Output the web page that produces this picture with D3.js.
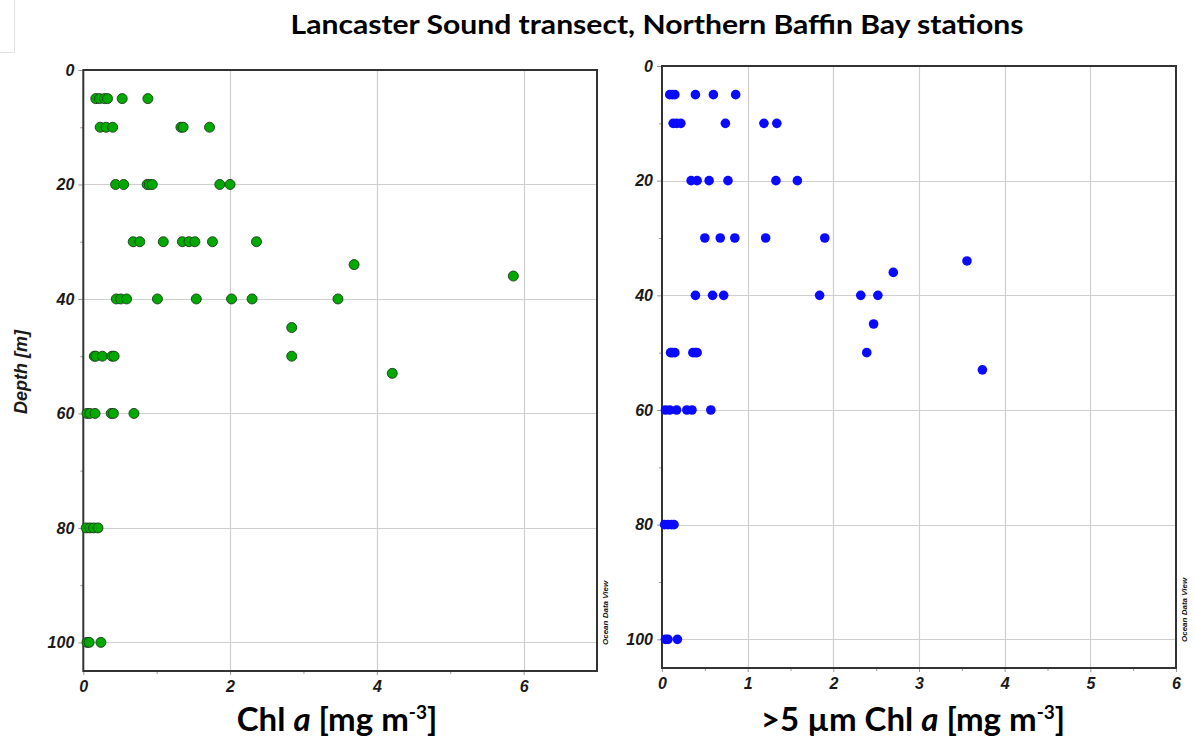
<!DOCTYPE html>
<html>
<head>
<meta charset="utf-8">
<script src="https://cdn.jsdelivr.net/npm/d3@7"></script>
<style>
  html, body { margin: 0; padding: 0; background: #fff; }
  svg { display: block; }
</style>
</head>
<body>
<svg id="chart" width="1195" height="741"></svg>
<script>
// Total Chl a profile (depth in m, concentration in mg m-3)
const chlDepth = [
  5, 5, 5, 5, 5, 5,
  10, 10, 10, 10, 10, 10,
  20, 20, 20, 20, 20, 20, 20,
  30, 30, 30, 30, 30, 30, 30, 30,
  34, 36,
  40, 40, 40, 40, 40, 40, 40, 40,
  45,
  50, 50, 50, 50, 50, 50,
  53,
  60, 60, 60, 60, 60, 60,
  80, 80, 80, 80,
  100, 100, 100
];
const chlValue = [
  0.17, 0.22, 0.29, 0.33, 0.53, 0.88,
  0.23, 0.31, 0.40, 1.33, 1.36, 1.72,
  0.44, 0.55, 0.87, 0.90, 0.94, 1.86, 2.00,
  0.68, 0.77, 1.09, 1.35, 1.44, 1.52, 1.76, 2.36,
  3.69, 5.86,
  0.45, 0.51, 0.59, 1.01, 1.54, 2.02, 2.30, 3.47,
  2.84,
  0.15, 0.17, 0.26, 0.39, 0.42, 2.84,
  4.21,
  0.05, 0.09, 0.16, 0.38, 0.41, 0.69,
  0.04, 0.09, 0.14, 0.20,
  0.05, 0.08, 0.24
];

// Size-fractionated (>5 µm) Chl a profile
const bigDepth = [
  5, 5, 5, 5, 5, 5,
  10, 10, 10, 10, 10, 10,
  20, 20, 20, 20, 20, 20,
  30, 30, 30, 30, 30,
  34, 36,
  40, 40, 40, 40, 40, 40,
  45,
  50, 50, 50, 50, 50, 50, 50,
  53,
  60, 60, 60, 60, 60, 60,
  80, 80, 80, 80,
  100, 100, 100
];
const bigValue = [
  0.09, 0.12, 0.15, 0.39, 0.60, 0.86,
  0.13, 0.17, 0.22, 0.74, 1.19, 1.34,
  0.34, 0.41, 0.55, 0.77, 1.33, 1.58,
  0.50, 0.68, 0.85, 1.21, 1.90,
  3.56, 2.70,
  0.39, 0.59, 0.72, 1.84, 2.32, 2.52,
  2.47,
  0.10, 0.12, 0.15, 0.36, 0.39, 0.41, 2.39,
  3.74,
  0.04, 0.09, 0.17, 0.29, 0.35, 0.57,
  0.03, 0.07, 0.11, 0.14,
  0.04, 0.07, 0.18
];

const depthTicks = [0, 20, 40, 60, 80, 100];
const depthMinorTicks = [10, 30, 50, 70, 90];
const chlTicks = [0, 2, 4, 6];
const chlMinorTicks = [1, 3, 5];
const bigTicks = [0, 1, 2, 3, 4, 5, 6];
const bigMinorTicks = [0.5, 1.5, 2.5, 3.5, 4.5, 5.5];

const titleText = "Lancaster Sound transect, Northern Baffin Bay stations";

const svg = d3.select("#chart");

// faint frame remnant in the upper-left corner
svg.append("path")
  .attr("d", "M14.5,0 V52.5 H0")
  .attr("fill", "none")
  .attr("stroke", "#e2e2e2")
  .attr("stroke-width", 1);

// main title
svg.append("text")
  .attr("x", 657).attr("y", 34)
  .attr("text-anchor", "middle")
  .attr("font-family", "Lato, 'Open Sans', sans-serif")
  .attr("font-weight", 700)
  .attr("font-size", 27)
  .attr("textLength", 733)
  .attr("lengthAdjust", "spacingAndGlyphs")
  .attr("fill", "#000")
  .text(titleText);

function panel(cfg) {
  const x = d3.scaleLinear().domain(cfg.xDomain).range([cfg.left, cfg.right]);
  const y = d3.scaleLinear().domain([0, 105]).range([cfg.top, cfg.bottom]);
  const g = svg.append("g");

  // grid lines
  g.append("g").selectAll("line.vg")
    .data(cfg.xTicks.filter(t => t > cfg.xDomain[0] && t < cfg.xDomain[1]))
    .join("line")
    .attr("x1", d => Math.round(x(d)) + 0.5).attr("x2", d => Math.round(x(d)) + 0.5)
    .attr("y1", cfg.top).attr("y2", cfg.bottom)
    .attr("stroke", "#cfcfcf").attr("stroke-width", 1.2);
  g.append("g").selectAll("line.hg")
    .data(depthTicks.filter(t => t > 0))
    .join("line")
    .attr("x1", cfg.left).attr("x2", cfg.right)
    .attr("y1", d => Math.round(y(d)) + 0.5).attr("y2", d => Math.round(y(d)) + 0.5)
    .attr("stroke", "#cfcfcf").attr("stroke-width", 1.2);

  // axes
  const yAxis = d3.axisLeft(y).tickValues(depthTicks).tickSize(5).tickPadding(4).tickFormat(d3.format("d"));
  const yAxisMinor = d3.axisLeft(y).tickValues(depthMinorTicks).tickSize(3).tickFormat("");
  const xAxis = d3.axisBottom(x).tickValues(cfg.xTicks).tickSize(4).tickPadding(6).tickFormat(d3.format("d"));
  const xAxisMinor = d3.axisBottom(x).tickValues(cfg.xMinor).tickSize(3).tickFormat("");

  const styleAxis = sel => {
    sel.select(".domain").remove();
    sel.selectAll(".tick line").attr("stroke", "#9a9a9a");
    sel.selectAll(".tick text")
      .attr("font-family", "'Liberation Sans', Arial, sans-serif")
      .attr("font-weight", 700)
      .attr("font-style", "italic")
      .attr("font-size", 16)
      .attr("fill", "#1a1a1a");
  };
  g.append("g").attr("transform", `translate(${cfg.left},0)`).call(yAxis).call(styleAxis);
  g.append("g").attr("transform", `translate(${cfg.left},0)`).call(yAxisMinor).call(styleAxis);
  g.append("g").attr("transform", `translate(0,${cfg.bottom})`).call(xAxis).call(styleAxis);
  g.append("g").attr("transform", `translate(0,${cfg.bottom})`).call(xAxisMinor).call(styleAxis);

  // frame
  g.append("rect")
    .attr("x", cfg.left).attr("y", cfg.top)
    .attr("width", cfg.right - cfg.left).attr("height", cfg.bottom - cfg.top)
    .attr("fill", "none").attr("stroke", "#333").attr("stroke-width", 2);

  // data points
  const pts = cfg.depth.map((d, i) => ({ depth: d, value: cfg.values[i] }));
  g.append("g").selectAll("circle")
    .data(pts)
    .join("circle")
    .attr("cx", d => x(d.value))
    .attr("cy", d => y(d.depth))
    .attr("r", cfg.r)
    .attr("fill", cfg.fill)
    .attr("stroke", cfg.stroke)
    .attr("stroke-width", cfg.stroke === "none" ? 0 : 0.9);

  // watermark
  g.append("text")
    .attr("transform", `translate(${cfg.right + 11},${cfg.bottom - 26}) rotate(-90)`)
    .attr("font-family", "'Liberation Sans', Arial, sans-serif")
    .attr("font-weight", 700).attr("font-style", "italic")
    .attr("font-size", 8).attr("fill", "#111")
    .text("Ocean Data View");

  // x-axis title with superscript
  const xt = g.append("text")
    .attr("x", cfg.titleX).attr("y", 731)
    .attr("text-anchor", "middle")
    .attr("font-family", "Lato, 'Open Sans', sans-serif")
    .attr("font-weight", 700)
    .attr("font-size", 33)
    .attr("fill", "#000");
  cfg.titleParts.forEach(p => {
    const t = xt.append("tspan").text(p.text);
    if (p.italic) t.attr("font-style", "italic");
    if (p.sup) t.attr("font-size", 19).attr("baseline-shift", "65%");
  });
  return { x, y };
}

panel({
  left: 83.3, right: 597, top: 70, bottom: 671,
  xDomain: [0, 7], xTicks: chlTicks, xMinor: chlMinorTicks,
  depth: chlDepth, values: chlValue,
  r: 5, fill: "#00a900", stroke: "#1d3d1d",
  titleX: 337,
  titleParts: [
    { text: "Chl " }, { text: "a", italic: true }, { text: " [mg m" },
    { text: "-3", sup: true }, { text: "]" }
  ]
});

panel({
  left: 662, right: 1176, top: 66, bottom: 668,
  xDomain: [0, 6], xTicks: bigTicks, xMinor: bigMinorTicks,
  depth: bigDepth, values: bigValue,
  r: 4.8, fill: "#0a0aff", stroke: "none",
  titleX: 913,
  titleParts: [
    { text: ">5 µm Chl " }, { text: "a", italic: true }, { text: " [mg m" },
    { text: "-3", sup: true }, { text: "]" }
  ]
});

// depth label for the left panel
svg.append("text")
  .attr("transform", "translate(27,372) rotate(-90)")
  .attr("text-anchor", "middle")
  .attr("font-family", "'Liberation Sans', Arial, sans-serif")
  .attr("font-weight", 700).attr("font-style", "italic")
  .attr("font-size", 18).attr("fill", "#1a1a1a")
  .text("Depth [m]");
</script>
</body>
</html>
